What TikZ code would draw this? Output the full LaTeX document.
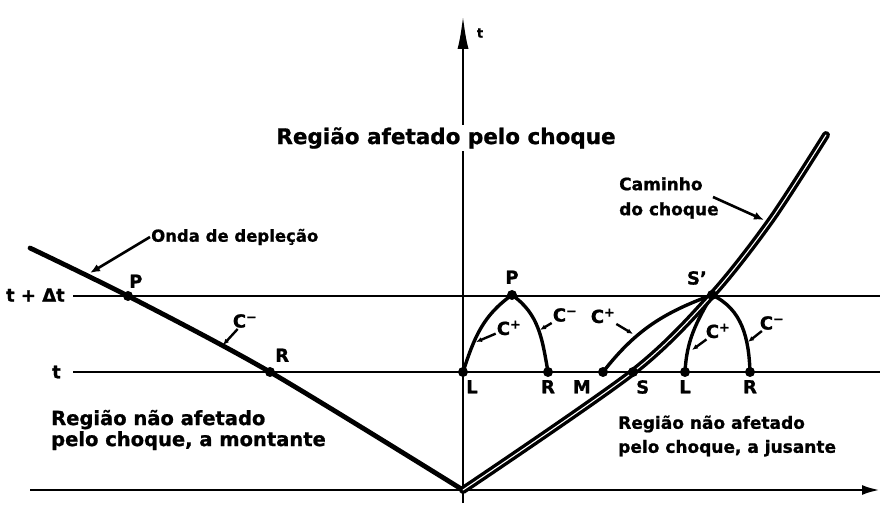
\documentclass[tikz,border=0pt]{standalone}
\usepackage{fontspec}
\setmainfont{DejaVu Sans}[BoldFeatures={FakeBold=1}]
\usepackage{tikz}
\usetikzlibrary{arrows.meta,positioning}

\newcommand{\cplus}{C\textsuperscript{+}}
\newcommand{\cminus}{C\textsuperscript{−}}

\begin{document}
\begin{tikzpicture}[x=1pt, y=1pt, node distance=6pt,
  every node/.style={font=\bfseries\fontsize{18}{21}\selectfont},
  axis/.style={line width=2.8pt},
  wave/.style={line width=4.8pt, line cap=round},
  char/.style={line width=3.4pt},
  shock/.style={double, double distance=1.1pt, line width=3.4pt, line cap=round},
  lbl/.style={inner sep=1pt},
  lead/.style={line width=2.4pt, -{Latex[length=6pt,width=5pt]}},
  big/.style={line width=2.6pt, -{Latex[length=10pt,width=8pt]}}]
\useasboundingbox (0,0) rectangle (880,506);

% pontos
\coordinate (O) at (463,16);
\coordinate (dstart) at (30,258);
\coordinate (P1) at (128,210);
\coordinate (R1) at (270,134);
\coordinate (L1) at (463,134);
\coordinate (P2) at (512,211);
\coordinate (R2) at (548,134);
\coordinate (M) at (603,134);
\coordinate (S) at (633,134);
\coordinate (L2) at (685,134);
\coordinate (R3) at (750,134);
\coordinate (Sp) at (712,211);
\coordinate (sk1) at (771,286);
\coordinate (sktop) at (826,371);

% eixos e linhas de tempo
\coordinate (hl) at (30,16);
\coordinate (hr) at (880,16);
\coordinate (vb) at (463,3);
\coordinate (vt) at (463,491);
\coordinate (tdl) at (73,210);
\coordinate (tdr) at (880,210);
\coordinate (tl) at (73,134);
\coordinate (tr) at (880,134);
\draw[axis] (tdl) -- (tdr);
\draw[axis] (tl) -- (tr);
\draw[axis, -{Latex[length=18pt,width=10pt]}] (hl) -- (hr);
\draw[axis, -{Latex[length=34pt,width=11pt]}] (vb) -- (vt);
\node[lbl, font=\bfseries\fontsize{13}{15}\selectfont] (tax) at (480,473) {t};
\node[lbl, anchor=east] (tdt) at (66,211) {t + Δt};
\node[lbl, anchor=east] (tt) at (62,134) {t};

\node[fill=white, inner sep=2pt, font=\bfseries\fontsize{21.5}{24}\selectfont] (afet) at (446,368) {Região afetado pelo choque};

% onda de depleção
\draw[wave] plot[smooth] coordinates {(dstart) (P1) (R1) (O)};

% caracteristicas
\draw[char] (L1) to[out=72,in=215] (P2) to[out=-35,in=100] (R2);
\draw[char] (M) to[out=52,in=200] (Sp);
\draw[char] (L2) to[out=87,in=240] (Sp);
\draw[char] (Sp) to[out=-25,in=92] (R3);

% caminho do choque
\draw[shock] plot[smooth] coordinates {(O) (S) (Sp) (sk1) (sktop)};

\foreach \p in {P1,R1,L1,P2,R2,M,S,L2,R3,Sp}
  \fill (\p) circle (5pt);

% rotulos dos pontos
\node[lbl, above right=7pt and 0pt of P1] (P1t) {P};
\node[lbl, above right=9pt and 4pt of R1] (R1t) {R};
\node[lbl, above=10pt of P2] (P2t) {P};
\node[lbl, below right=7pt and 2pt of L1] (L1t) {L};
\node[lbl, below=7pt of R2] (R2t) {R};
\node[lbl, below left=7pt and 11pt of M] (Mt) {M};
\node[lbl, below right=7pt and 2pt of S] (St) {S};
\node[lbl, below=7pt of L2] (L2t) {L};
\node[lbl, below=7pt of R3] (R3t) {R};
\node[lbl, above left=9pt and 4pt of Sp] (Spt) {S'};

% C+ e C-
\node[lbl] (Cm1) at (245,185) {\cminus};
\node[lbl] (Cp2) at (509,178) {\cplus};
\node[lbl] (Cm2) at (565,191) {\cminus};
\node[lbl] (Cp3) at (603,190) {\cplus};
\node[lbl] (Cp4) at (718,175) {\cplus};
\node[lbl] (Cm4) at (772,183) {\cminus};
\coordinate (kCm1) at (223,161);
\coordinate (kCp2) at (476,164);
\coordinate (kCm2) at (540,176);
\coordinate (kCp3) at (633,172);
\coordinate (kCp4) at (692,156);
\coordinate (kCm4) at (748,164);
\draw[lead] (Cm1) -- (kCm1);
\draw[lead] (Cp2) -- (kCp2);
\draw[lead] (Cm2) -- (kCm2);
\draw[lead] (Cp3) -- (kCp3);
\draw[lead] (Cp4) -- (kCp4);
\draw[lead] (Cm4) -- (kCm4);

% legendas
\node[lbl, anchor=west, font=\bfseries\fontsize{16.5}{20}\selectfont] (onda) at (150,269) {Onda de depleção};
\coordinate (kOnda) at (90,233);
\draw[big] (onda.west) -- (kOnda);
\node[lbl, anchor=west, align=left, font=\bfseries\fontsize{17}{25}\selectfont] (cam) at (618,308) {Caminho\\do choque};
\coordinate (kCam) at (764,286);
\draw[big] (713,309) -- (kCam);
\node[lbl, anchor=west, align=left, font=\bfseries\fontsize{19.5}{21}\selectfont] (mont) at (50,76) {Região não afetado\\pelo choque, a montante};
\node[lbl, anchor=west, align=left, font=\bfseries\fontsize{17}{24}\selectfont] (jus) at (617,70) {Região não afetado\\pelo choque, a jusante};
\end{tikzpicture}
\end{document}
